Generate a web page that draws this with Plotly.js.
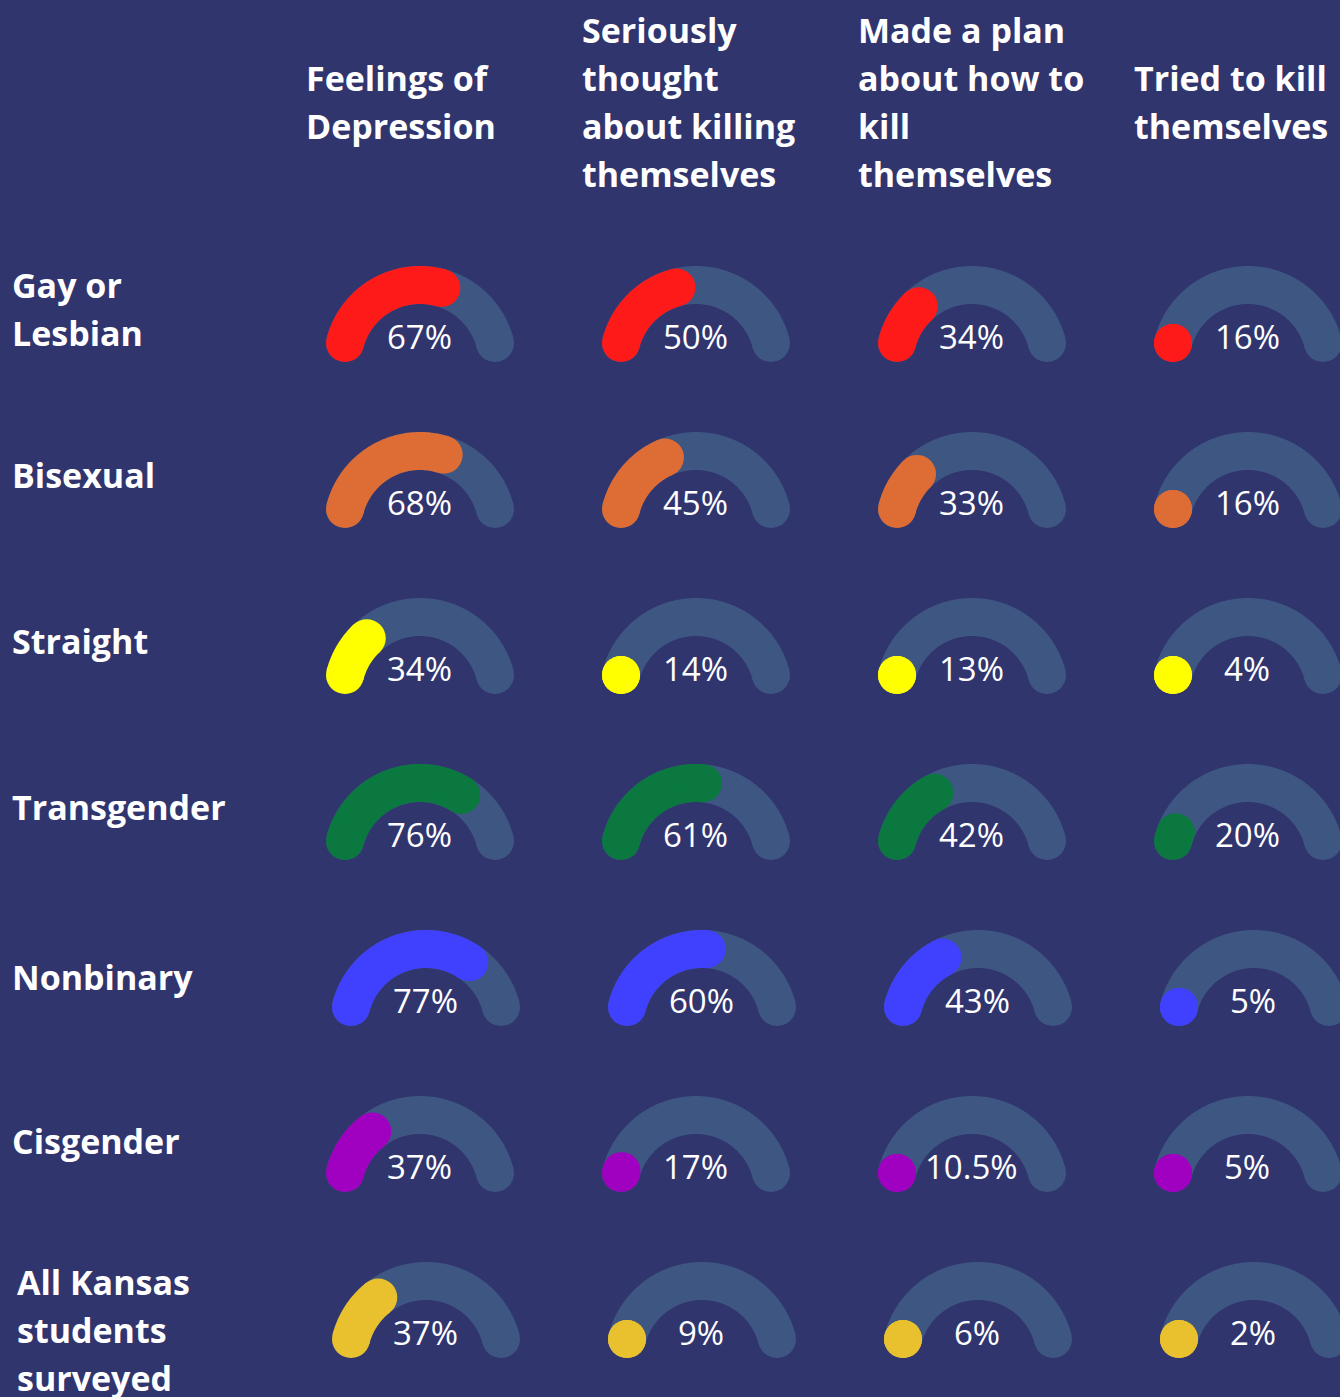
<!DOCTYPE html>
<html>
<head>
<meta charset="utf-8">
<script src="https://cdn.plot.ly/plotly-3.0.1.min.js"></script>
<style>
html,body{margin:0;padding:0;background:#31356e;}
#chart{width:1340px;height:1397px;}
</style>
</head>
<body>
<div id="chart"></div>
<script>
// ---- data ----
const groups = ["Gay or\nLesbian", "Bisexual", "Straight", "Transgender", "Nonbinary", "Cisgender", "All Kansas\nstudents\nsurveyed"];
const measures = ["Feelings of\nDepression", "Seriously\nthought\nabout killing\nthemselves", "Made a plan\nabout how to\nkill\nthemselves", "Tried to kill\nthemselves"];
const depression = [67, 68, 34, 76, 77, 37, 37];
const thoughtAbout = [50, 45, 14, 61, 60, 17, 9];
const madePlan = [34, 33, 13, 42, 43, 10.5, 6];
const triedTo = [16, 16, 4, 20, 5, 5, 2];
const groupColors = ["#ff1a1a", "#dd6d35", "#ffff00", "#0a783f", "#4040ff", "#a000c0", "#e9c12f"];

// ---- layout constants ----
const W = 1340, H = 1397;
const BG = "#31356e", TRACK = "#3e5682";
const colX = [420, 696, 972, 1248];
const rowShift = [0, 0, 0, 0, 6, 0, 6];
const rowY0 = 362.5, rowPitch = 166;
const R = 77.5, THICK = 38;
const CAP_DEG = 14.6;                 // angle taken by a round cap
const START = 180 - CAP_DEG, END = CAP_DEG;
const labelCenterY = [309, 475, 641, 807, 977, 1141, 1330];
const labelX = [10, 10, 10, 10, 10, 10, 15];
const FONT = "Open Sans, Noto Sans, sans-serif";

const values = [depression, thoughtAbout, madePlan, triedTo];

function arcPoints(cx, cy, a0, a1) {
  const n = Math.max(2, Math.ceil(Math.abs(a0 - a1) / 0.75));
  const xs = [], ys = [];
  for (let i = 0; i <= n; i++) {
    const a = (a0 + (a1 - a0) * i / n) * Math.PI / 180;
    xs.push(cx + R * Math.cos(a));
    ys.push(cy - R * Math.sin(a));
  }
  return {xs, ys};
}

const traces = [];
const annotations = [];

groups.forEach((g, r) => {
  const cy = rowY0 + rowPitch * r;
  values.forEach((vals, c) => {
    const cx = colX[c] + rowShift[r];
    // track
    const t = arcPoints(cx, cy, START, END);
    traces.push({type: "scatter", mode: "lines", x: t.xs, y: t.ys, line: {color: TRACK, width: THICK, simplify: false}, hoverinfo: "skip", showlegend: false});
    traces.push({type: "scatter", mode: "markers", x: [t.xs[0], t.xs[t.xs.length - 1]], y: [t.ys[0], t.ys[t.ys.length - 1]], marker: {color: TRACK, size: THICK, line: {width: 0}}, hoverinfo: "skip", showlegend: false});
    // value arc: 180-degree gauge, shortened by the two round caps
    const sweep = Math.max(0, vals[r] * 1.8 - 2 * CAP_DEG);
    const v = arcPoints(cx, cy, START, START - sweep);
    if (sweep > 0.5) {
      traces.push({type: "scatter", mode: "lines", x: v.xs, y: v.ys, line: {color: groupColors[r], width: THICK, simplify: false}, hoverinfo: "skip", showlegend: false});
    }
    traces.push({type: "scatter", mode: "markers", x: [v.xs[0], v.xs[v.xs.length - 1]], y: [v.ys[0], v.ys[v.ys.length - 1]], marker: {color: groupColors[r], size: THICK, line: {width: 0}}, hoverinfo: "skip", showlegend: false});
    annotations.push({x: cx - 1, y: cy - 26, xref: "x", yref: "y", text: vals[r] + "%", showarrow: false, xanchor: "center", yanchor: "middle", font: {family: FONT, size: 33, color: "#ffffff"}});
  });
  // row label
  const lines = g.split("\n");
  lines.forEach((ln, i) => {
    annotations.push({x: labelX[r], y: labelCenterY[r] + (i - (lines.length - 1) / 2) * 48, xref: "x", yref: "y", text: ln, showarrow: false, xanchor: "left", yanchor: "middle", font: {family: FONT, size: 34, color: "#ffffff", weight: 700}});
  });
});

measures.forEach((m, c) => {
  const lines = m.split("\n");
  lines.forEach((ln, i) => {
    annotations.push({x: colX[c] - 116, y: 102 + (i - (lines.length - 1) / 2) * 48.3, xref: "x", yref: "y", text: ln, showarrow: false, xanchor: "left", yanchor: "middle", font: {family: FONT, size: 34, color: "#ffffff", weight: 700}});
  });
});

const layout = {
  width: W, height: H,
  margin: {l: 0, r: 0, t: 0, b: 0, pad: 0},
  paper_bgcolor: BG, plot_bgcolor: BG,
  xaxis: {range: [0, W], visible: false, fixedrange: true},
  yaxis: {range: [H, 0], visible: false, fixedrange: true},
  annotations: annotations,
  showlegend: false,
  hovermode: false
};

Plotly.newPlot("chart", traces, layout, {displayModeBar: false, staticPlot: true});
</script>
</body>
</html>
